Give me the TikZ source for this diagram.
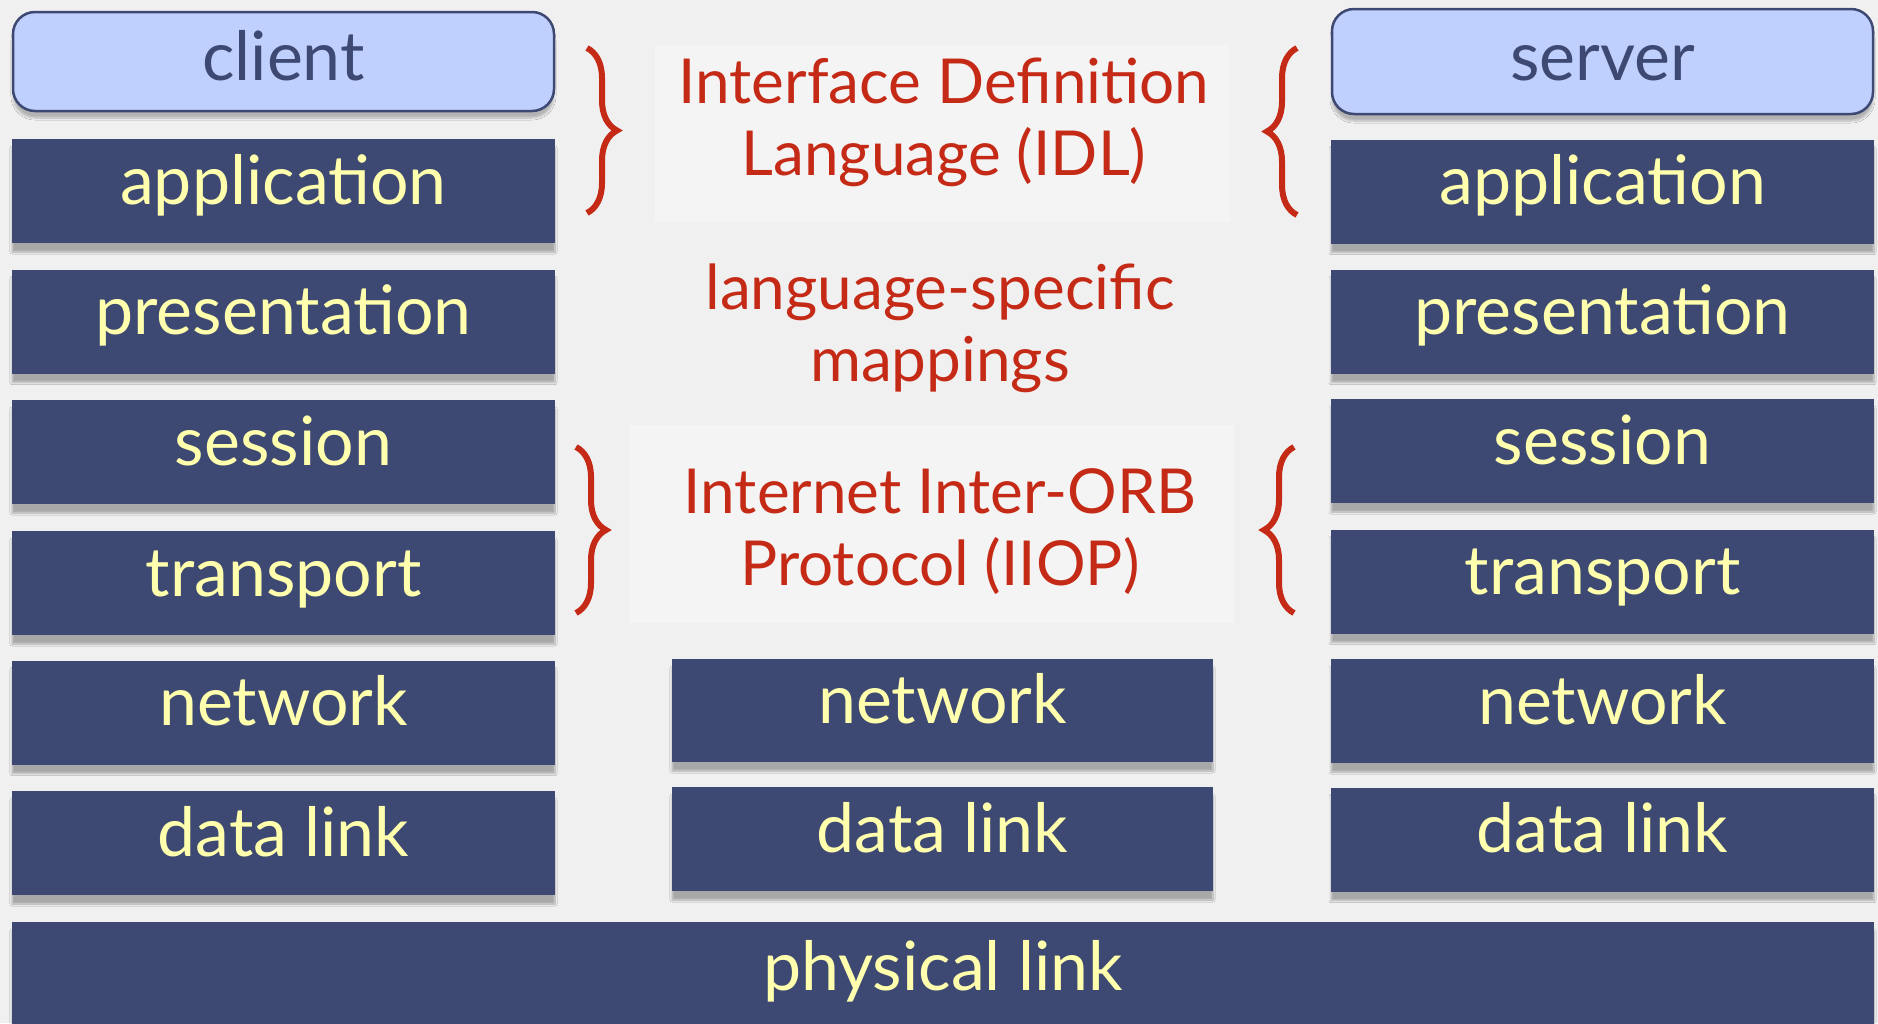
\documentclass[tikz,border=0pt]{standalone}
\usepackage{fontspec}
\setmainfont{Lato}
\usetikzlibrary{decorations.pathreplacing,shadows.blur}
\definecolor{bg}{HTML}{F0F0F0}
\definecolor{panel}{HTML}{F4F4F4}
\definecolor{navy}{HTML}{3D4972}
\definecolor{ylw}{HTML}{FFFFAE}
\definecolor{lblue}{HTML}{C0D0FE}
\definecolor{idlred}{HTML}{C42A16}
\tikzset{
  layer/.style={rectangle, fill=navy, text=ylw, inner sep=0pt,
    minimum width=543pt, minimum height=104pt, text height=46pt, text depth=20pt,
    font=\fontsize{68}{72}\selectfont,
    blur shadow={shadow xshift=0pt, shadow yshift=-9pt, shadow blur steps=8, shadow opacity=30}},
  endpoint/.style={rectangle, rounded corners=22pt, draw=navy, line width=2.5pt, fill=lblue, text=navy,
    inner sep=0pt, minimum width=541pt, text height=58pt, text depth=20pt,
    font=\fontsize{68}{72}\selectfont,
    blur shadow={shadow xshift=0pt, shadow yshift=-7pt, shadow blur steps=8, shadow opacity=25}},
  redtext/.style={text=idlred, align=center, font=\fontsize{62}{72}\selectfont},
  bracel/.style={draw=idlred, line width=6pt, decorate, decoration={brace, amplitude=30pt}},
}
\begin{document}
\begin{tikzpicture}[x=1pt,y=-1pt]
\useasboundingbox (0,0) rectangle (1878,1023);
\fill[bg] (0,0) rectangle (1878,1023);
\fill[panel] (655,45) rectangle (1230,222);
\fill[panel] (629,425) rectangle (1234,623);
% left column
\node[endpoint, minimum height=99pt] (client) at (283.5,61.5) {client};
\node[layer] (lapp)  at (283.5,191)   {application};
\node[layer] (lpres) at (283.5,321.5) {presentation};
\node[layer] (lsess) at (283.5,452)   {session};
\node[layer] (ltran) at (283.5,583)   {transport};
\node[layer] (lnet)  at (283.5,712.5) {network};
\node[layer] (ldl)   at (283.5,843)   {data link};
% right column
\node[endpoint, minimum height=105pt] (server) at (1602.5,61.5) {server};
\node[layer] (rapp)  at (1602.5,191.5) {application};
\node[layer] (rpres) at (1602.5,321.5) {presentation};
\node[layer] (rsess) at (1602.5,451)   {session};
\node[layer] (rtran) at (1602.5,581.5) {transport};
\node[layer] (rnet)  at (1602.5,711)   {network};
\node[layer] (rdl)   at (1602.5,839.5) {data link};
% middle column
\node[layer, minimum width=541pt, minimum height=103pt] (mnet) at (942.5,710.5) {network};
\node[layer, minimum width=541pt, minimum height=104pt] (mdl)  at (942.5,839)   {data link};
% physical
\node[layer, minimum width=1862pt, minimum height=110pt] (phys) at (943,977) {physical link};
% middle texts
\node[redtext] (idl)  at (944,122) {Interface Definition\\Language (IDL)};
\node[redtext] (map)  at (940,328) {language-specific\\mappings};
\node[redtext] (iiop) at (940,532) {Internet Inter-ORB\\Protocol (IIOP)};
% braces
\coordinate (b1t) at (587,48);  \coordinate (b1b) at (587,213);
\coordinate (b2t) at (1297,48); \coordinate (b2b) at (1297,215);
\coordinate (b3t) at (576,447); \coordinate (b3b) at (576,613);
\coordinate (b4t) at (1294,447); \coordinate (b4b) at (1294,613);
\draw[bracel] (b1t) -- (b1b);
\draw[bracel] (b2b) -- (b2t);
\draw[bracel] (b3t) -- (b3b);
\draw[bracel] (b4b) -- (b4t);
\end{tikzpicture}
\end{document}
